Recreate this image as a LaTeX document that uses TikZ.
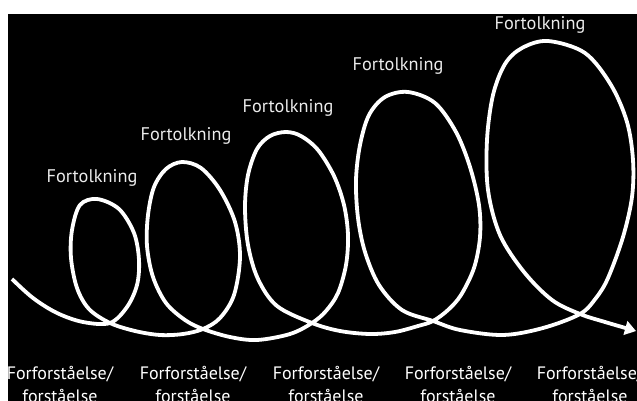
\documentclass[tikz,border=0pt]{standalone}
\usepackage{fontspec}
\setmainfont{PT Sans}
\usetikzlibrary{arrows.meta}
\tikzset{
  toplabel/.style={text=white!92!black, font=\fontsize{18.3}{20}\selectfont, anchor=base, inner sep=0pt},
  botlabel/.style={text=white, font=\fontsize{18}{23}\selectfont, anchor=base, align=center, inner sep=0pt},
  spiral/.style={draw=white, line width=3.8pt, -{Triangle[length=11pt,width=14pt]}}
}
\begin{document}
\begin{tikzpicture}[x=1pt,y=-1pt]
\useasboundingbox (0,0) rectangle (637,401);
\fill[white] (0,0) rectangle (637,401);
\fill[black] (8,14) rectangle (637,401);
\draw[spiral] plot[smooth, tension=0.55] coordinates {
 (12,279) (33,298) (57,313) (83,322) (110,323)
 (127,307) (137,285) (139,260) (134,233) (119,209) (97,199) (80,205) (72,230) (71,258) (77,288) (89,309) (110,323)
 (135,331) (160,335) (183,334) (203,329)
 (220,318) (234,295) (240,257) (235,222) (220,190) (201,168) (182,162) (166,169) (154,187) (148,215) (147,246) (153,277) (166,303) (185,320) (203,329)
 (230,337) (257,340) (290,334) (312,323)
 (326,311) (338,293) (346,265) (348,235) (344,205) (334,176) (318,150) (301,136) (286,132) (270,136) (257,149) (248,175) (245,207) (248,245) (258,279) (277,306) (312,323)
 (340,331) (370,334) (395,332) (418,326) (433,321)
 (448,310) (461,295) (474,268) (480,237) (479,205) (470,167) (456,132) (435,103) (408,92) (385,97) (369,115) (360,145) (356,180) (358,218) (365,252) (379,285) (402,310) (433,321)
 (460,330) (503,335) (543,328) (580,314)
 (596,298) (608,278) (623,237) (632,197) (633,160) (627,122) (611,85) (585,53) (548,41) (522,48) (505,64) (493,95) (487,140) (488,190) (500,235) (524,272) (552,300) (580,314)
 (605,322) (636,331)};
\node[toplabel] (t1) at (92,182) {Fortolkning};
\node[toplabel] (t2) at (186,140) {Fortolkning};
\node[toplabel] (t3) at (288,113) {Fortolkning};
\node[toplabel] (t4) at (398,71) {Fortolkning};
\node[toplabel] (t5) at (540,30) {Fortolkning};
\node[botlabel] (f1) at (60,402) {Forforståelse/\\forståelse};
\node[botlabel] (f2) at (193,402) {Forforståelse/\\forståelse};
\node[botlabel] (f3) at (326,402) {Forforståelse/\\forståelse};
\node[botlabel] (f4) at (458,402) {Forforståelse/\\forståelse};
\node[botlabel] (f5) at (590,402) {Forforståelse/\\forståelse};
\end{tikzpicture}
\end{document}
